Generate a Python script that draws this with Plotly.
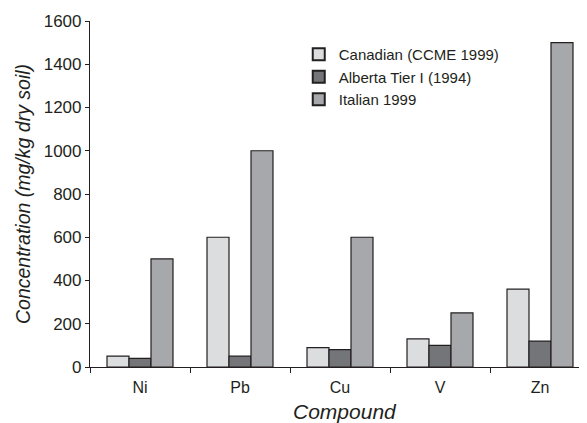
import plotly.graph_objects as go

categories = ["Ni", "Pb", "Cu", "V", "Zn"]
canadian = [50, 600, 90, 130, 360]
alberta = [40, 50, 80, 100, 120]
italian = [500, 1000, 600, 250, 1500]
series_names = ["Canadian (CCME 1999)", "Alberta Tier I (1994)", "Italian 1999"]
y_ticks = [0, 200, 400, 600, 800, 1000, 1200, 1400, 1600]

colors = ["#dcdddf", "#747578", "#a7a8ab"]
font = "Liberation Sans, Arial, sans-serif"

fig = go.Figure()
for name, vals, col in zip(series_names, [canadian, alberta, italian], colors):
    fig.add_trace(go.Bar(
        x=categories, y=vals, name=name,
        marker=dict(color=col, line=dict(color="#231f20", width=1.2)),
    ))

# page body has an 8px margin, so the figure is sized and laid out 8px smaller
fig.update_layout(
    width=579, height=415,
    margin=dict(l=82, r=0, t=13, b=56),
    paper_bgcolor="white", plot_bgcolor="white",
    barmode="group", bargap=0.34, bargroupgap=0,
    font=dict(family=font, color="#231f20", size=17),
    showlegend=True,
    legend=dict(
        x=0.42, y=0.951, xanchor="left", yanchor="top",
        bgcolor="rgba(0,0,0,0)", font=dict(size=15, color="#231f20"),
        tracegroupgap=0, itemsizing="constant",
    ),
    annotations=[dict(
        text="<i>Compound</i>", xref="paper", yref="paper",
        x=0.514, y=-0.129, xanchor="center", yanchor="middle",
        showarrow=False, font=dict(size=21, color="#231f20"),
    )],
)
fig.update_xaxes(
    range=[-0.5, 4.47], showline=True, linecolor="#231f20", linewidth=1.2,
    ticks="outside", tickson="boundaries", ticklen=5, tickcolor="#231f20",
    showgrid=False, zeroline=False, automargin=False,
    tickfont=dict(size=16), ticklabelstandoff=6,
)
fig.update_yaxes(
    range=[0, 1600], tickvals=y_ticks, showline=True, linecolor="#231f20",
    linewidth=1.2, ticks="outside", ticklen=4, tickcolor="#231f20",
    showgrid=False, zeroline=False, automargin=False,
    tickfont=dict(size=17),
    title=dict(text="<i>Concentration (mg/kg dry soil)</i>", font=dict(size=19.5), standoff=7),
)

fig.write_html("out.html")
